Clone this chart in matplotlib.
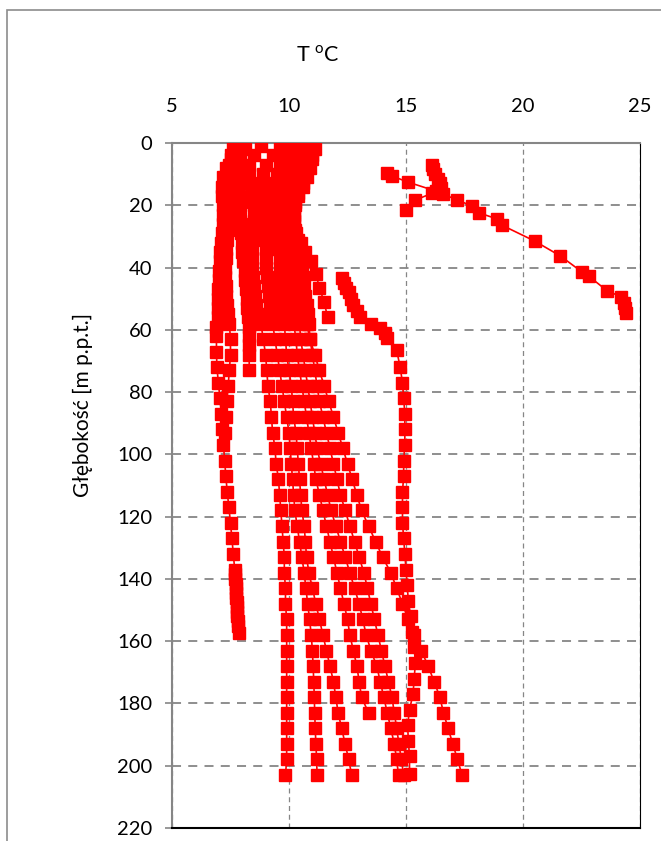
import matplotlib
matplotlib.use("Agg")
import matplotlib.pyplot as plt
from matplotlib.patches import Rectangle

plt.rcParams['font.family'] = ['Lato', 'DejaVu Sans']
plt.rcParams['mathtext.fontset'] = 'custom'
plt.rcParams['mathtext.rm'] = 'Lato'

# common sampling depths [m]
z_main = [1, 4, 7, 10, 13, 16, 19, 22, 25, 28, 31, 34, 37, 40, 43, 46, 49, 52, 55, 58,
          63, 68, 73, 78, 83, 88, 93, 98, 103, 108, 113, 118, 123, 128, 133, 138,
          143, 148, 153, 158, 163, 168, 173, 178, 183, 188, 193, 198, 203]

# cold well, down to 157 m
z_cold = [2, 5, 8, 11, 14, 17, 20, 23, 26, 29, 32, 35, 38, 41, 44, 47, 50, 53, 56, 59,
          62, 67, 72, 77, 82, 87, 92, 97, 102, 107, 112, 117, 122, 127, 132, 137, 138.5,
          140, 141.5, 143, 144.5, 146, 147.5, 149, 150.5, 152, 153.5, 155, 157.5]
t_cold = [7.7, 7.5, 7.3, 7.2, 7.15, 7.15, 7.2, 7.2, 7.2, 7.15, 7.1, 7.05, 7.05, 7.0, 7.0,
          6.95, 6.95, 6.95, 6.95, 6.9, 6.9, 6.9, 6.92, 6.98, 7.05, 7.1, 7.15, 7.2, 7.25,
          7.3, 7.36, 7.43, 7.5, 7.56, 7.62, 7.68, 7.7, 7.71, 7.72, 7.73, 7.74, 7.75, 7.76,
          7.77, 7.78, 7.79, 7.8, 7.81, 7.88]

t_s2 = [7.6, 7.5, 7.45, 7.4, 7.4, 7.45, 7.5, 7.5, 7.45, 7.4, 7.35, 7.3, 7.3, 7.25, 7.25,
        7.3, 7.3, 7.35, 7.4, 7.45, 7.5, 7.5, 7.45, 7.4, 7.35, 7.3, 7.25]

z_s3 = [2, 5, 8, 11, 14, 17, 20, 23, 26, 29, 32, 35, 38, 41, 44, 47, 50, 53, 56, 59, 62,
        65, 68, 73]
t_s3 = [8.1, 7.9, 7.8, 7.8, 7.8, 7.85, 7.9, 7.9, 7.95, 7.95, 8.0, 8.0, 8.05, 8.1, 8.1,
        8.15, 8.2, 8.2, 8.25, 8.3, 8.3, 8.3, 8.3, 8.3]

t_d1 = [8.8, 8.5, 8.3, 8.3, 8.35, 8.4, 8.45, 8.5, 8.5, 8.5, 8.45, 8.4, 8.4, 8.4, 8.45,
        8.5, 8.55, 8.6, 8.7, 8.8, 8.9, 9.0, 9.05, 9.1, 9.2, 9.25, 9.3, 9.4, 9.45, 9.55,
        9.6, 9.65, 9.7, 9.75, 9.8, 9.8, 9.85, 9.85, 9.9, 9.9, 9.9, 9.9, 9.9, 9.9, 9.9,
        9.9, 9.9, 9.9, 9.85]

t_d2 = [9.6, 9.3, 9.0, 8.9, 8.9, 8.9, 8.9, 8.95, 9.0, 9.0, 9.0, 9.0, 9.0, 9.0, 9.05,
        9.1, 9.15, 9.2, 9.25, 9.3, 9.4, 9.5, 9.6, 9.7, 9.8, 9.9, 10.0, 10.05, 10.1, 10.15,
        10.2, 10.25, 10.35, 10.45, 10.55, 10.65, 10.72, 10.8, 10.88, 10.95, 11.0, 11.03,
        11.06, 11.08, 11.1, 11.12, 11.15, 11.18, 11.2]

t_d3 = [10.0, 9.8, 9.6, 9.5, 9.45, 9.4, 9.4, 9.4, 9.45, 9.5, 9.5, 9.55, 9.6, 9.6, 9.6,
        9.65, 9.7, 9.7, 9.75, 9.8, 9.85, 9.9, 10.0, 10.1, 10.15, 10.2, 10.3, 10.35, 10.4,
        10.45, 10.5, 10.55, 10.65, 10.7, 10.75, 10.85, 11.0, 11.15, 11.3, 11.45, 11.6,
        11.75, 11.9, 12.0, 12.1, 12.25, 12.4, 12.55, 12.68]

t_g = [10.4, 10.2, 10.0, 9.9, 9.8, 9.8, 9.75, 9.75, 9.8, 9.85, 9.9, 9.95, 10.0, 10.0,
       10.0, 10.05, 10.1, 10.1, 10.15, 10.2, 10.3, 10.35, 10.45, 10.55, 10.65, 10.75,
       10.85, 10.95, 11.05, 11.15, 11.3, 11.45, 11.6, 11.75, 11.9, 12.05, 12.2, 12.35,
       12.5, 12.6, 12.75, 12.9, 13.0, 13.1, 13.4]

t_h = [10.5, 10.6, 10.5, 10.4, 10.3, 10.2, 10.15, 10.1, 10.1, 10.1, 10.15, 10.2, 10.25,
       10.3, 10.3, 10.35, 10.35, 10.4, 10.4, 10.45, 10.5, 10.6, 10.7, 10.8, 10.9, 11.0,
       11.1, 11.2, 11.35, 11.5, 11.65, 11.8, 12.0, 12.2, 12.4, 12.6, 12.8, 13.0, 13.15,
       13.3, 13.5, 13.75, 13.9, 14.05, 14.2, 14.35, 14.5, 14.6, 14.68]

t_i = [10.9, 11.0, 10.8, 10.7, 10.6, 10.4, 10.25, 10.2, 10.2, 10.25, 10.4, 10.45, 10.5,
       10.55, 10.6, 10.65, 10.7, 10.75, 10.8, 10.85, 10.9, 11.0, 11.1, 11.2, 11.3, 11.45,
       11.6, 11.75, 11.9, 12.05, 12.2, 12.4, 12.6, 12.8, 13.0, 13.2, 13.35, 13.5, 13.65,
       13.8, 13.95, 14.1, 14.25, 14.4, 14.5, 14.6, 14.7, 14.8, 14.9]

t_f = [10.6, 10.8, 10.7, 10.6, 10.5, 10.3, 10.2, 10.15, 10.15, 10.2, 10.25, 10.35, 10.4,
       10.4, 10.45, 10.5, 10.55, 10.6, 10.65, 10.75, 10.9, 11.1, 11.3, 11.5, 11.7, 11.9,
       12.1, 12.3, 12.5, 12.7, 12.9, 13.1, 13.4, 13.7, 14.0, 14.35, 14.6, 14.85, 15.1,
       15.35, 15.65, 15.95, 16.2, 16.45, 16.6, 16.8, 17.0, 17.2, 17.4]

z_j = [2, 5, 8, 11, 14, 17, 20, 23, 26, 29, 32, 35, 38, 42, 46.5, 51, 56]
t_j = [11.1, 11.0, 10.9, 10.75, 10.6, 10.4, 10.25, 10.2, 10.2, 10.3, 10.5, 10.7, 10.95,
       11.15, 11.3, 11.5, 11.65]

z_c = [43.5, 45, 46.5, 48, 50, 52, 54, 56, 58, 59.5, 61, 62.5, 66.5, 72, 77, 82, 87, 92,
       97, 102, 107, 112, 117, 122, 127, 132, 137, 142, 147, 152, 157, 162, 167, 172,
       177, 182, 187, 192, 197, 202.5]
t_c = [12.25, 12.35, 12.45, 12.55, 12.65, 12.75, 12.9, 13.05, 13.5, 13.9, 14.1, 14.2,
       14.6, 14.75, 14.85, 14.9, 14.95, 14.95, 14.95, 14.9, 14.9, 14.85, 14.85, 14.85,
       14.9, 14.95, 15.0, 15.05, 15.1, 15.2, 15.25, 15.35, 15.4, 15.35, 15.3, 15.15,
       15.07, 15.1, 15.15, 15.15]

# warm shallow profiles
z_a = [9.6, 10.6, 12.6, 15.5, 16.5, 18.3, 20.2, 22.4, 24.4, 26.4, 31.5, 36.3, 41.3, 42.7,
       47.5, 49.4, 51.5, 53, 54.5]
t_a = [14.2, 14.4, 15.1, 16.3, 16.6, 17.2, 17.8, 18.1, 18.9, 19.1, 20.5, 21.6, 22.5,
       22.8, 23.6, 24.2, 24.3, 24.35, 24.4]
z_b = [7, 8.5, 10, 11.5, 13, 14.5, 16.2, 18.3, 21.5]
t_b = [16.1, 16.15, 16.25, 16.35, 16.45, 16.5, 16.1, 15.4, 15.0]

profiles = [
    (t_cold, z_cold), (t_s2, z_main[:len(t_s2)]), (t_s3, z_s3),
    (t_d1, z_main), (t_d2, z_main), (t_d3, z_main), (t_g, z_main[:len(t_g)]),
    (t_h, z_main), (t_i, z_main), (t_f, z_main), (t_j, z_j), (t_c, z_c),
    (t_a, z_a), (t_b, z_b),
]

W, H = 661, 841
fig = plt.figure(figsize=(W / 100, H / 100), dpi=100)
ax = fig.add_axes([172 / W, 1 - 828 / H, (640 - 172) / W, (828 - 143) / H])

grey = '#868686'
for t, z in profiles:
    ax.plot(t, z, color='#ff0000', lw=1.2, marker='s', ms=8.3, mec='#ff0000',
            mfc='#ff0000', zorder=3)

ax.set_xlim(5, 25)
ax.set_ylim(220, 0)
ax.set_xticks([5, 10, 15, 20, 25])
ax.set_yticks(range(0, 221, 20))
ax.xaxis.tick_top()
ax.tick_params(axis='x', length=0, pad=20, labelsize=14.5, colors='black')
ax.tick_params(axis='y', length=5, width=1.2, color=grey, pad=9, labelsize=14.5)

ax.grid(axis='y', color=grey, lw=1.3, ls=(0, (5, 4)), zorder=1)
ax.grid(axis='x', color=grey, lw=0.9, ls=(0, (4, 3)), zorder=1)

ax.spines['left'].set_color(grey)
ax.spines['left'].set_linewidth(1.5)
ax.spines['top'].set_color(grey)
ax.spines['top'].set_linewidth(1.5)
ax.spines['right'].set_color('black')
ax.spines['bottom'].set_color('black')
ax.spines['bottom'].set_linewidth(1.5)

fig.text(318 / W, 1 - 55 / H, 'T $^{\\mathregular{o}}$C', ha='center', va='center',
         fontsize=15.5)
fig.text(83 / W, 1 - 405 / H, 'Głębokość [m p.p.t.]', ha='center', va='center',
         rotation=90, fontsize=15)

# chart frame, cut off at the right and bottom
fig.patches.append(Rectangle((7 / W, -0.1), 1.2, 1 - 10 / H + 0.1,
                             transform=fig.transFigure, fill=False,
                             edgecolor='#8c8c8c', lw=1.2))

fig.savefig('out.png', dpi=100)
